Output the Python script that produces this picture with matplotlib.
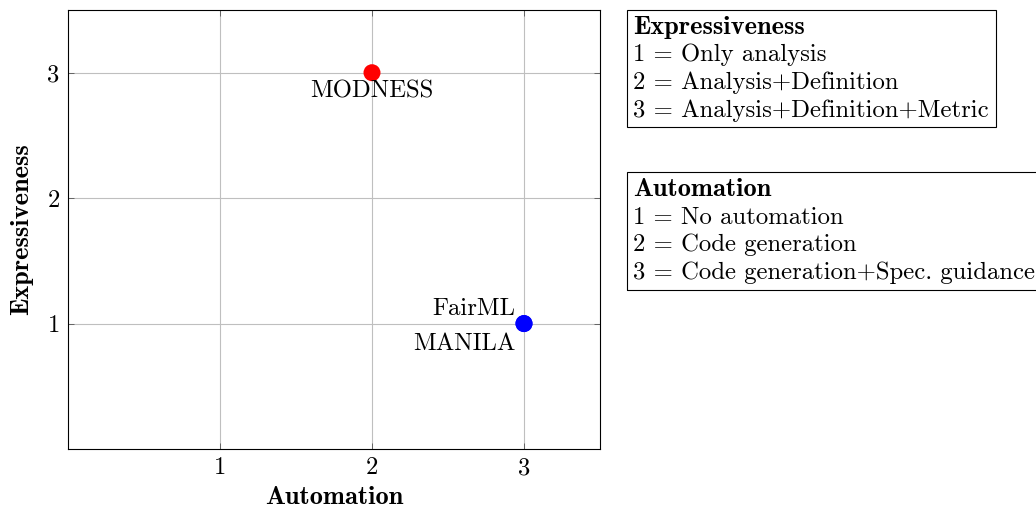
import matplotlib
matplotlib.use('Agg')
import matplotlib.pyplot as plt
from matplotlib.patches import Rectangle

# Data
tools = ['MODNESS', 'FairML', 'MANILA']
automation = [2, 3, 3]
expressiveness = [3, 1, 1]
colors = ['red', 'blue', 'blue']
label_pos = ['below', 'above left', 'below left']

ticks = [1, 2, 3]
expr_title = 'Expressiveness'
expr_levels = ['1 = Only analysis', '2 = Analysis+Definition', '3 = Analysis+Definition+Metric']
auto_title = 'Automation'
auto_levels = ['1 = No automation', '2 = Code generation', '3 = Code generation+Spec. guidance']

plt.rcParams['font.family'] = 'cmr10'
plt.rcParams['axes.formatter.use_mathtext'] = True
FS = 17.8
FS_BOLD = 19

fig = plt.figure(figsize=(10.36, 5.11), dpi=100)
ax = fig.add_axes([68 / 1036, 62 / 511, 532 / 1036, 439 / 511])

ax.set_xlim(0, 3.5)
ax.set_ylim(0, 3.5)
ax.set_xticks(ticks)
ax.set_yticks(ticks)
ax.set_xticklabels([str(t) for t in ticks], fontsize=FS)
ax.set_yticklabels([str(t) for t in ticks], fontsize=FS)
ax.grid(True, color='#bfbfbf', linewidth=0.8)
ax.set_axisbelow(True)
ax.tick_params(direction='in', length=4, width=0.6, color='#555555', top=True, right=True, pad=6)
for sp in ax.spines.values():
    sp.set_linewidth(0.8)

ax.set_xlabel(auto_title, family='cmb10', fontsize=FS_BOLD, labelpad=5)
ax.set_ylabel(expr_title, family='cmb10', fontsize=FS_BOLD, labelpad=10)

# points
ax.scatter(automation, expressiveness, c=colors, s=150, zorder=3, edgecolors='none')

offsets = {
    'below': ((0, -5.5), 'center', 'top'),
    'above left': ((-6, 2.5), 'right', 'bottom'),
    'below left': ((-6, -6.5), 'right', 'top'),
}
for name, x, y, pos in zip(tools, automation, expressiveness, label_pos):
    off, ha, va = offsets[pos]
    ax.annotate(name, (x, y), xytext=off, textcoords='offset points',
                ha=ha, va=va, fontsize=FS, zorder=4)


def level_box(x0, y0, x1, y1, title, lines):
    W, H = 1036, 511
    fig.patches.append(Rectangle((x0 / W, 1 - y1 / H), (x1 - x0) / W, (y1 - y0) / H,
                                 transform=fig.transFigure, fill=False,
                                 edgecolor='black', linewidth=0.8, clip_on=False))
    step = 27.5
    ty = y0 + 24
    fig.text((x0 + 6) / W, 1 - ty / H, title, family='cmb10', fontsize=FS_BOLD, va='baseline')
    for i, line in enumerate(lines):
        fig.text((x0 + 6) / W, 1 - (ty + step * (i + 1)) / H, line, fontsize=FS, va='baseline')


level_box(627, 10, 996, 127, expr_title, expr_levels)
level_box(627, 172, 1040, 290, auto_title, auto_levels)

fig.savefig('out.png', dpi=100)
